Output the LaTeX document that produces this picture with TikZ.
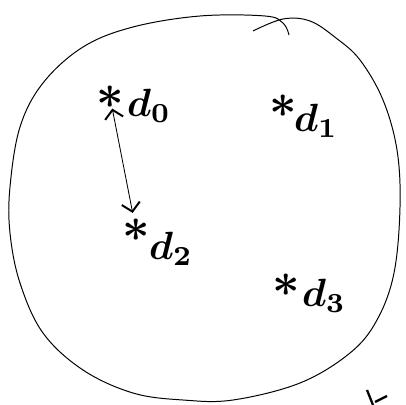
\documentclass[tikz,border=0pt]{standalone}
\usepackage{tikz}
\usetikzlibrary{arrows.meta, positioning}
\usepackage{amsmath, amssymb}

\newcommand{\ptmark}{\scalebox{3.4}{$\boldsymbol{\ast}$}}
\newcommand{\ptname}[1]{\scalebox{2.8}{$\boldsymbol{d_{#1}}$}}

\begin{document}
\begin{tikzpicture}[
  x=0.025cm, y=-0.025cm,
  pt/.style={inner sep=0pt},
  lbl/.style={inner sep=0pt}
]
  \useasboundingbox (0,0) rectangle (406,405);

  % Outline
  \draw[line width=0.7pt] plot[smooth, tension=0.6] coordinates {
    (253,31) (283,19) (310,21) (336,38) (360,60) (383,100) (397,150)
    (400,207) (394,273) (377,320) (350,353) (300,383) (233,400)
    (183,400) (133,393) (83,370) (43,333) (20,283) (10,233) (10,187)
    (20,127) (43,83) (83,47) (133,27) (200,16) (265,16) (283,23) (289,35)};

  % Points
  \foreach \i/\x/\y/\lx/\ly in {0/110/97/149/106, 1/283/106/316/121, 2/136/230/171/249, 3/286/285/324/296} {
    \node[pt] (s\i) at (\x,\y) {\ptmark};
    \node[lbl] (d\i) at (\lx,\ly) {\ptname{\i}};
  }

  % Distance
  \draw[line width=0.6pt, shorten >=4pt,
    {Straight Barb[length=6pt, width=13pt, line width=1.4pt]}-{Straight Barb[length=6pt, width=13pt, line width=1.4pt]}]
    (s0) -- (s2);

  % Cut-off mark
  \draw[line width=1.6pt] (367,390) -- (373,405);
  \draw[line width=1.6pt] (375,402) -- (387,396);
\end{tikzpicture}
\end{document}
